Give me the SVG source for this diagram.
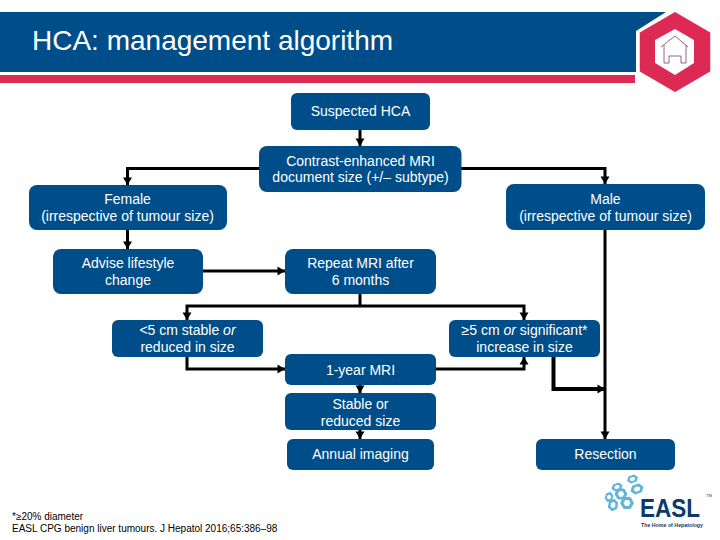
<svg xmlns="http://www.w3.org/2000/svg" width="720" height="540" viewBox="0 0 720 540">
<style>
text{font-family:"Liberation Sans",Arial,sans-serif}
.n{fill:#004e89}
.t{fill:#fff;font-size:14px;text-anchor:middle}
.c{fill:none;stroke:#000;stroke-width:3;marker-end:url(#a)}
.p{fill:none;stroke:#000;stroke-width:3}
.h{fill:#fff;stroke:#62b5da;stroke-width:2.400;stroke-linejoin:round}
.f{font-size:10px;fill:#000}
</style>
<defs>
<marker id="a" markerUnits="userSpaceOnUse" markerWidth="10" markerHeight="10" refX="8" refY="5" orient="auto"><path d="M0.500 0.500L8 5L0.500 9.500Z" fill="#000"/></marker>
<polygon id="hx" class="h" points="0,-4 3.500,-2 3.500,2 0,4 -3.500,2 -3.500,-2"/>
</defs>
<rect width="720" height="540" fill="#fff"/>
<g id="header">
<path d="M0 12H666L636 31V72H0Z" fill="#004e89"/>
<rect x="0" y="75" width="635" height="8" fill="#dc2a54"/>
<path d="M675 11L711 32V72L675 93L639 72V32Z" fill="#dc2a54" stroke="#fff" stroke-width="1.500"/>
<path d="M675 29L694 40V63L675 75L655 63V40Z" fill="#fff"/>
<path d="M661 47L675 36L688 47M664 45V63H669V56H681V63H686V45" fill="none" stroke="#7a3a6a" stroke-width="0.800"/>
<text x="32" y="50" font-size="28" fill="#fff">HCA: management algorithm</text>
</g>
<g id="connectors">
<path class="c" d="M360 130V146"/>
<path class="c" d="M260 168.500H127.500V185"/>
<path class="c" d="M461 168.500H605V184"/>
<path class="c" d="M127.500 229V249"/>
<path class="c" d="M202 271H285"/>
<path class="p" d="M360 294V306"/>
<path class="c" d="M360 306H187V320"/>
<path class="c" d="M360 306H524V320"/>
<path class="c" d="M187 356V369H285"/>
<path class="c" d="M435 369H524V357"/>
<path class="c" d="M360 385V393"/>
<path class="c" d="M360 430V439"/>
<path class="c" d="M553.500 356V389H605" style="stroke-width:4"/>
<path class="c" d="M605 229V439"/>
</g>
<g id="suspected"><rect class="n" x="291" y="93" width="139" height="37" rx="6"/><text class="t" x="360.500" y="116">Suspected HCA</text></g>
<g id="mri"><rect class="n" x="259" y="146" width="202.500" height="46" rx="8"/><text class="t" x="360.500" y="166">Contrast-enhanced MRI</text><text class="t" x="360.500" y="182">document size (+/– subtype)</text></g>
<g id="female"><rect class="n" x="29" y="185" width="198" height="45" rx="8"/><text class="t" x="127.500" y="204">Female</text><text class="t" x="127.500" y="221">(irrespective of tumour size)</text></g>
<g id="male"><rect class="n" x="506" y="184" width="199" height="46" rx="8"/><text class="t" x="605.500" y="204">Male</text><text class="t" x="605.500" y="221">(irrespective of tumour size)</text></g>
<g id="advise"><rect class="n" x="53" y="249" width="150" height="45" rx="8"/><text class="t" x="128" y="268">Advise lifestyle</text><text class="t" x="128" y="285">change</text></g>
<g id="repeat"><rect class="n" x="285" y="249" width="151" height="45" rx="8"/><text class="t" x="360.500" y="268">Repeat MRI after</text><text class="t" x="360.500" y="285">6 months</text></g>
<g id="small"><rect class="n" x="112" y="320" width="151" height="37" rx="6"/><text class="t" x="187.500" y="335">&lt;5 cm stable <tspan font-style="italic">or</tspan></text><text class="t" x="187.500" y="352">reduced in size</text></g>
<g id="large"><rect class="n" x="449" y="320" width="151" height="37" rx="6"/><text class="t" x="524.500" y="335">≥5 cm <tspan font-style="italic">or</tspan> significant*</text><text class="t" x="524.500" y="352">increase in size</text></g>
<g id="oneyear"><rect class="n" x="285" y="354" width="151" height="31" rx="6"/><text class="t" x="360.500" y="375">1-year MRI</text></g>
<g id="stable"><rect class="n" x="285" y="393" width="151" height="37" rx="6"/><text class="t" x="360.500" y="409">Stable or</text><text class="t" x="360.500" y="426">reduced size</text></g>
<g id="annual"><rect class="n" x="287" y="439" width="147" height="31" rx="6"/><text class="t" x="360.500" y="459">Annual imaging</text></g>
<g id="resection"><rect class="n" x="536" y="439" width="139" height="31" rx="6"/><text class="t" x="605.500" y="459">Resection</text></g>
<g id="footnote"><text class="f" x="12" y="520">*≥20% diameter</text><text class="f" x="12" y="532">EASL CPG benign liver tumours. J Hepatol 2016;65:386–98</text></g>
<g id="logo">
<use href="#hx" transform="translate(632.500 479) rotate(70) scale(.8 1.100)"/>
<use href="#hx" transform="translate(617 487) rotate(70) scale(.8 1.100)"/>
<use href="#hx" transform="translate(637 489) rotate(70) scale(1 1.300)"/>
<use href="#hx" transform="translate(609 497) rotate(20) scale(.8 1)"/>
<use href="#hx" transform="translate(621 494) rotate(30) scale(1.200)"/>
<use href="#hx" transform="translate(627 503) rotate(30) scale(1.300)"/>
<use href="#hx" transform="translate(613 505) rotate(10) scale(1 1.200)"/>
<text x="640" y="517" font-size="25" font-weight="700" fill="#0a3a6e" textLength="60" lengthAdjust="spacingAndGlyphs">EASL</text>
<text x="641" y="527" font-size="5.500" font-weight="700" fill="#0a3a6e" textLength="62" lengthAdjust="spacingAndGlyphs">The Home of Hepatology</text>
<text x="706" y="497" font-size="4" fill="#0a3a6e">TM</text>
</g>
</svg>
